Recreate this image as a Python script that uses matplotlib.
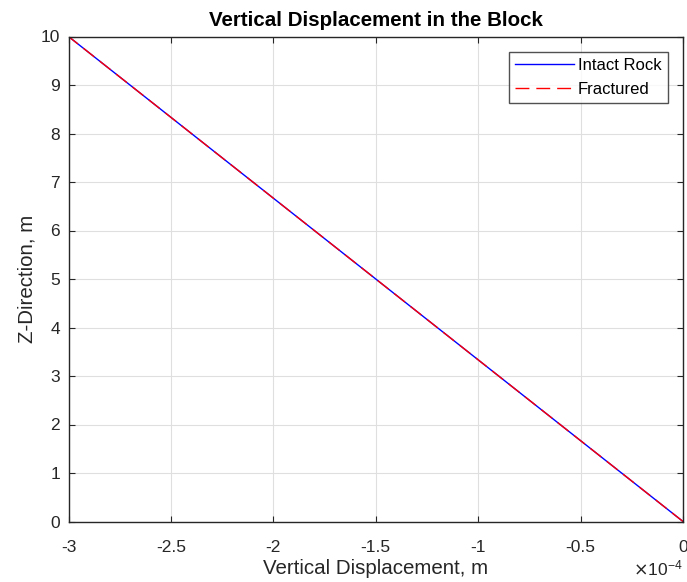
import matplotlib
matplotlib.use("Agg")
import matplotlib.pyplot as plt

plt.rcParams['font.family'] = ['Liberation Sans', 'DejaVu Sans']

z = [0, 1, 2, 3, 4, 5, 6, 7, 8, 9, 10]
disp_intact = [0.0, -0.3e-4, -0.6e-4, -0.9e-4, -1.2e-4, -1.5e-4, -1.8e-4, -2.1e-4, -2.4e-4, -2.7e-4, -3.0e-4]
disp_fractured = [0.0, -0.3e-4, -0.6e-4, -0.9e-4, -1.2e-4, -1.5e-4, -1.8e-4, -2.1e-4, -2.4e-4, -2.7e-4, -3.0e-4]
xticks = [-3e-4, -2.5e-4, -2e-4, -1.5e-4, -1e-4, -0.5e-4, 0]
xticklabels = ['-3', '-2.5', '-2', '-1.5', '-1', '-0.5', '0']
yticks = [0, 1, 2, 3, 4, 5, 6, 7, 8, 9, 10]

W, H = 687, 582
fig = plt.figure(figsize=(W / 100, H / 100), dpi=100)
ax = fig.add_axes([68.5 / W, (H - 521.5) / H, 614.5 / W, 485 / H])

ax.plot(disp_intact, z, color='#0000ff', lw=1.0, label='Intact Rock')
ax.plot(disp_fractured, z, color='#ff0000', lw=1.0, ls=(0, (10, 5)), label='Fractured')

ax.set_xlim(-3e-4, 0)
ax.set_ylim(0, 10)
ax.set_xticks(xticks)
ax.set_xticklabels(xticklabels)
ax.set_yticks(yticks)
ax.grid(True, color='#dfdfdf', lw=0.8)
ax.set_axisbelow(True)
ax.tick_params(direction='in', top=True, right=True, labelsize=12.5, colors='#262626', length=4.5, width=0.8)
ax.tick_params(axis='x', pad=13)
ax.tick_params(axis='y', pad=6)
for s in ax.spines.values():
    s.set_color('#262626')
    s.set_linewidth(1.0)

ax.set_xlabel('Vertical Displacement, m', fontsize=14.8, color='#262626', labelpad=3.5)
ax.set_ylabel('Z-Direction, m', fontsize=14.8, color='#262626', labelpad=3)
ax.set_title('Vertical Displacement in the Block', fontsize=14.8, fontweight='bold', color='#000000', pad=7.5)
ax.text(1.0, -0.077, r'$\times\mathregular{10^{-4}}$', transform=ax.transAxes, ha='right', va='top',
        fontsize=12.5, color='#262626')

leg = ax.legend(loc='upper right', fontsize=12, frameon=True, fancybox=False, edgecolor='#262626',
                handlelength=3.5, handletextpad=0.25, borderpad=0.4, labelspacing=0.5, borderaxespad=0.9)
leg.get_frame().set_linewidth(1.0)

fig.savefig('out.png', dpi=100)
